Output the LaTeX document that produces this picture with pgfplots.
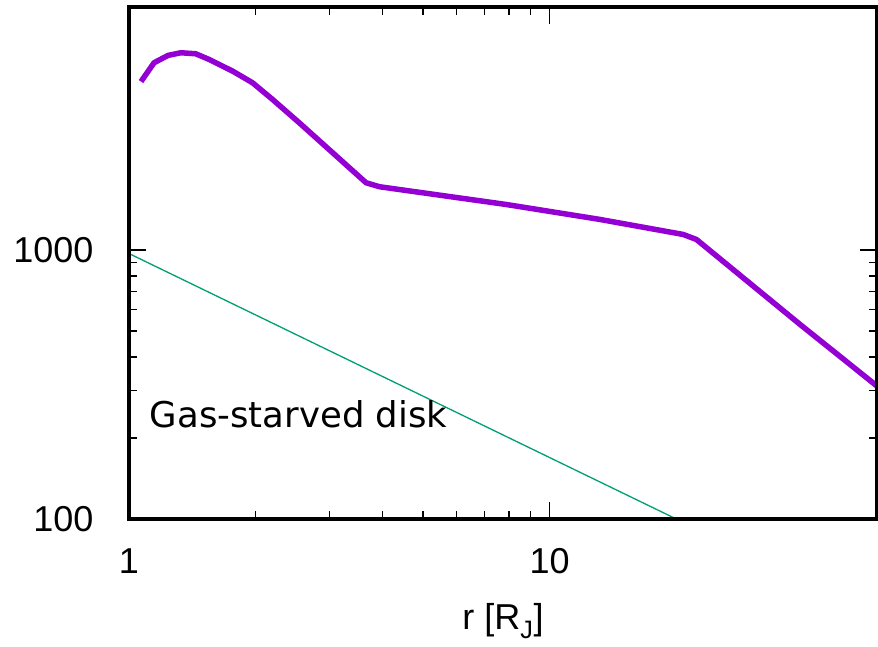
\documentclass[border=0pt]{standalone}
\usepackage{fontspec}
\setmainfont{Liberation Sans}
\newfontfamily\notefont{DejaVu Sans}
\usepackage{pgfplots}
\pgfplotsset{compat=1.18}
\definecolor{dviolet}{HTML}{9400D3}
\definecolor{sgreen}{HTML}{009E73}
\begin{document}
\begin{tikzpicture}
\begin{loglogaxis}[
  scale only axis, width=748pt, height=512pt,
  xmin=1, xmax=60, ymin=100, ymax=8000,
  xtick={1,10}, xticklabels={1,10},
  ytick={100,1000}, yticklabels={100,1000},
  every tick/.style={black, line width=1.3pt},
  major tick length=17pt, minor tick length=8pt,
  tick label style={font=\fontsize{36}{40}\selectfont},
  xticklabel style={yshift=-26pt},
  yticklabel style={xshift=-32pt},
  xlabel={r [R\textsubscript{J}]},
  xlabel style={font=\fontsize{36}{40}\selectfont, at={(axis description cs:0.5,0)}, anchor=base, yshift=-111pt},
  no markers,
]
\addplot[sgreen, line width=1.3pt] coordinates {(1,970) (20,100)};
\addplot[dviolet, line width=5.5pt, line join=round] coordinates {
(1.068,4226) (1.147,4965) (1.238,5285) (1.328,5408) (1.441,5360) (1.551,5105)
(1.762,4624) (1.966,4184) (2.194,3627) (2.538,2972) (3.05,2297) (3.66,1778)
(3.94,1718) (7.88,1476) (13.15,1299) (20.76,1142) (22.33,1094) (39.3,530) (60,312)
};
\node[anchor=base west, inner sep=0pt, font=\notefont\fontsize{35.5}{38}\selectfont] at (axis cs:1.12,219) {Gas-starved disk};
\end{loglogaxis}
\draw[line width=3.5pt] (current axis.south west) rectangle (current axis.north east);
\pgfresetboundingbox
\path[use as bounding box] ([xshift=-129pt,yshift=-128pt]current axis.south west) rectangle ++(878pt,647pt);
\end{tikzpicture}
\end{document}
